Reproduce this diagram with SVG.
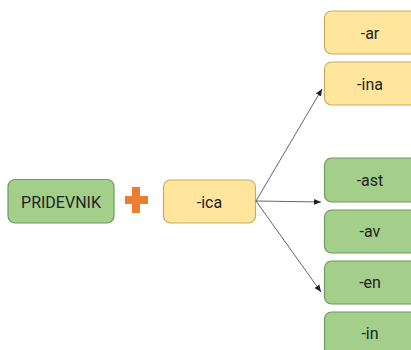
<svg xmlns="http://www.w3.org/2000/svg" width="411" height="350" viewBox="0 0 411 350">
<defs>
<style>
.g{fill:#a3cf8b;stroke:#6f9a60;stroke-width:1.2}
.y{fill:#ffe69c;stroke:#c7ac62;stroke-width:1.2}
.t{font-family:Roboto,"Liberation Sans",sans-serif;font-size:16px;fill:#222;text-anchor:middle;dominant-baseline:central}
.c{stroke:#555;stroke-width:0.9;fill:none;marker-end:url(#ah)}
</style>
<marker id="ah" markerWidth="8" markerHeight="8" refX="7" refY="4" orient="auto" markerUnits="userSpaceOnUse">
<path d="M0,1 L7,4 L0,7 Z" fill="#222"/>
</marker>
</defs>
<rect width="411" height="350" fill="#fff"/>
<g id="pridevnik"><rect class="g" x="8" y="179.500" width="106" height="43.500" rx="7"/><text class="t" x="61" y="202">PRIDEVNIK</text></g>
<g id="plus"><path d="M132,187 H140 V196 H148 V204 H140 V213 H132 V204 H125 V196 H132 Z" fill="#ed7d31"/></g>
<g id="ica"><rect class="y" x="163.500" y="180" width="92" height="43" rx="7"/><text class="t" x="209.500" y="202">-ica</text></g>
<g id="ar"><rect class="y" x="324.500" y="11" width="100" height="43" rx="7"/><text class="t" x="370" y="33">-ar</text></g>
<g id="ina"><rect class="y" x="324.500" y="62" width="100" height="43" rx="7"/><text class="t" x="370" y="84">-ina</text></g>
<g id="ast"><rect class="g" x="324.500" y="158" width="100" height="44" rx="7"/><text class="t" x="370" y="180">-ast</text></g>
<g id="av"><rect class="g" x="324.500" y="210" width="100" height="43" rx="7"/><text class="t" x="370" y="231">-av</text></g>
<g id="en"><rect class="g" x="324.500" y="261" width="100" height="43" rx="7"/><text class="t" x="370" y="282">-en</text></g>
<g id="in"><rect class="g" x="324.500" y="312" width="100" height="43" rx="7"/><text class="t" x="370" y="333">-in</text></g>
<g id="connectors">
<line class="c" x1="256" y1="201" x2="322" y2="89"/>
<line class="c" x1="256" y1="201" x2="321" y2="202"/>
<line class="c" x1="256" y1="201" x2="321" y2="292"/>
</g>
</svg>
